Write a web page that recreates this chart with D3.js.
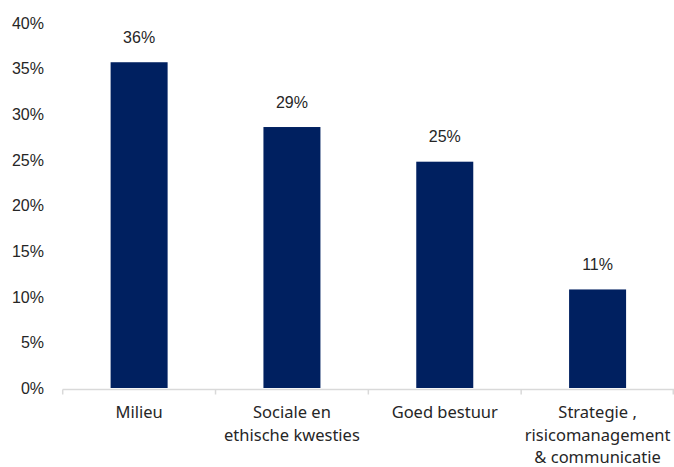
<!DOCTYPE html>
<html>
<head>
<meta charset="utf-8">
<script src="https://cdn.jsdelivr.net/npm/d3@7"></script>
<style>
  body { margin: 0; background: #fff; }
  svg { display: block; }
</style>
</head>
<body>
<div id="chart"></div>
<script>
  // data
  let categories = ["Milieu", "Sociale en\nethische kwesties", "Goed bestuur", "Strategie ,\nrisicomanagement\n& communicatie"]
  let values = [35.7, 28.6, 24.8, 10.8]
  let labels = ["36%", "29%", "25%", "11%"]
  let yTicks = [0, 5, 10, 15, 20, 25, 30, 35, 40]

  let width = 674, height = 467
  let plotLeft = 62.7, plotRight = 674, plotTop = 23, plotBottom = 388

  let svg = d3.select("#chart").append("svg")
    .attr("width", width)
    .attr("height", height)

  let x = d3.scaleBand()
    .domain(categories)
    .range([plotLeft, plotRight])
    .paddingInner(0.627)
    .paddingOuter(0.3135)

  let y = d3.scaleLinear()
    .domain([0, 40])
    .range([plotBottom, plotTop])

  // y labels only, no axis line
  svg.append("g")
    .selectAll("text")
    .data(yTicks)
    .enter().append("text")
      .attr("x", 44)
      .attr("y", function(d){ return y(d) })
      .attr("dy", "0.36em")
      .attr("text-anchor", "end")
      .style("font-family", "'Liberation Sans', Arial, sans-serif")
      .style("font-size", "16px")
      .style("fill", "#262626")
      .text(function(d){ return d + "%" })

  let bars = svg.append("g")
    .selectAll("rect")
    .data(values)
    .enter().append("rect")
      .attr("x", function(d, i){ return x(categories[i]) })
      .attr("y", function(d){ return y(d) })
      .attr("width", x.bandwidth())
      .attr("height", function(d){ return y(0) - y(d) })
      .attr("fill", "#002060")

  svg.append("g")
    .selectAll("text")
    .data(values)
    .enter().append("text")
      .attr("x", function(d, i){ return x(categories[i]) + x.bandwidth() / 2 })
      .attr("y", function(d){ return y(d) - 19.5 })
      .attr("text-anchor", "middle")
      .style("font-family", "'Liberation Sans', Arial, sans-serif")
      .style("font-size", "16px")
      .style("fill", "#262626")
      .text(function(d, i){ return labels[i] })

  // category axis: light grey line with ticks between the bands
  let axisY = 389.5
  let axis = svg.append("g")
  axis.append("line")
    .attr("x1", plotLeft).attr("x2", plotRight)
    .attr("y1", axisY).attr("y2", axisY)
    .attr("stroke", "#d9d9d9")
    .attr("stroke-width", 1.5)

  let bounds = categories.map(function(c){ return x(c) - x.step() * x.paddingInner() / 2 })
  bounds.push(plotRight)
  axis.selectAll(".tick")
    .data(bounds)
    .enter().append("line")
      .attr("class", "tick")
      .attr("x1", function(d){ return Math.min(d, plotRight - 0.75) })
      .attr("x2", function(d){ return Math.min(d, plotRight - 0.75) })
      .attr("y1", axisY).attr("y2", axisY + 5)
      .attr("stroke", "#d9d9d9")
      .attr("stroke-width", 1.5)

  let catText = svg.append("g")
    .selectAll("text")
    .data(categories)
    .enter().append("text")
      .attr("x", function(d){ return x(d) + x.bandwidth() / 2 })
      .attr("y", 418)
      .attr("text-anchor", "middle")
      .style("font-family", "'Noto Sans', sans-serif")
      .style("font-size", "16.5px")
      .style("fill", "#262626")

  catText.each(function(d){
    let t = d3.select(this)
    d.split("\n").forEach(function(line, k){
      t.append("tspan")
        .attr("x", t.attr("x"))
        .attr("dy", k == 0 ? 0 : 22.5)
        .text(line)
    })
  })
</script>
</body>
</html>
